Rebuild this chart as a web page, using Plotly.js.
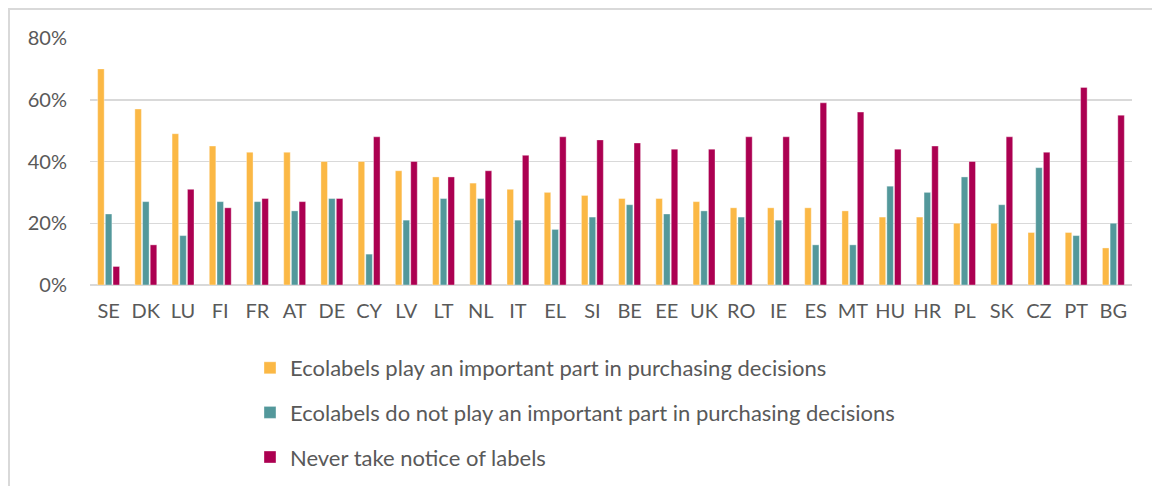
<!DOCTYPE html>
<html><head><meta charset="utf-8">
<script src="https://cdn.plot.ly/plotly-3.0.1.min.js"></script>
<style>html,body{margin:0;padding:0;background:#fff;}#chart{width:1152px;height:486px;}
#frame{position:absolute;left:8px;top:8px;width:1200px;height:500px;border-left:2px solid #d9d9d9;border-top:2px solid #d9d9d9;pointer-events:none;}</style>
</head><body>
<div id="chart"></div><div id="frame"></div>
<script>
const countries = ["SE","DK","LU","FI","FR","AT","DE","CY","LV","LT","NL","IT","EL","SI","BE","EE","UK","RO","IE","ES","MT","HU","HR","PL","SK","CZ","PT","BG"];
const important = [70,57,49,45,43,43,40,40,37,35,33,31,30,29,28,28,27,25,25,25,24,22,22,20,20,17,17,12];
const notImportant = [23,27,16,27,27,24,28,10,21,28,28,21,18,22,26,23,24,22,21,13,13,32,30,35,26,38,16,20];
const neverNotice = [6,13,31,25,28,27,28,48,40,35,37,42,48,47,46,44,44,48,48,59,56,44,45,40,48,43,64,55];
const seriesNames = ["Ecolabels play an important part in purchasing decisions","Ecolabels do not play an important part in purchasing decisions","Never take notice of labels"];
const colors = ["#FBB845","#53989B","#AC0051"];
const data = [important, notImportant, neverNotice].map((vals,i)=>({
  type:"bar", x:countries, y:vals.map(v=>v/100), name:seriesNames[i],
  marker:{color:colors[i], line:{color:"rgba(255,255,255,0.6)", width:0.6}},
  legendgroup:"g"+i, hoverinfo:"y"
}));
const layout = {
  width:1152, height:486,
  margin:{l:90, r:20, t:38, b:201, autoexpand:false},
  paper_bgcolor:"#fff", plot_bgcolor:"#fff",
  font:{family:"Lato, 'Open Sans', sans-serif", color:"#595959", size:20},
  barmode:"group", bargap:0.38, bargroupgap:0.15,
  xaxis:{type:"category", showgrid:false, ticks:"", ticklabelstandoff:12, tickfont:{size:20, color:"#595959"}, showline:false, zeroline:false, automargin:false},
  yaxis:{range:[0,0.8], dtick:0.2, tickformat:".0%", showgrid:true, gridcolor:"#d9d9d9", gridwidth:1.5, zeroline:true, zerolinecolor:"#d9d9d9", zerolinewidth:1.5, ticks:"", ticklabelstandoff:22, tickfont:{size:20, color:"#595959"}, automargin:false},
  showlegend:true,
  legend:{orientation:"v", xref:"container", yref:"container", x:0.217, xanchor:"left", y:0.286, yanchor:"top", tracegroupgap:13, font:{size:22, color:"#595959"}, bgcolor:"rgba(0,0,0,0)"}
};
Plotly.newPlot("chart", data, layout, {displayModeBar:false, staticPlot:true});
</script>
</body></html>
